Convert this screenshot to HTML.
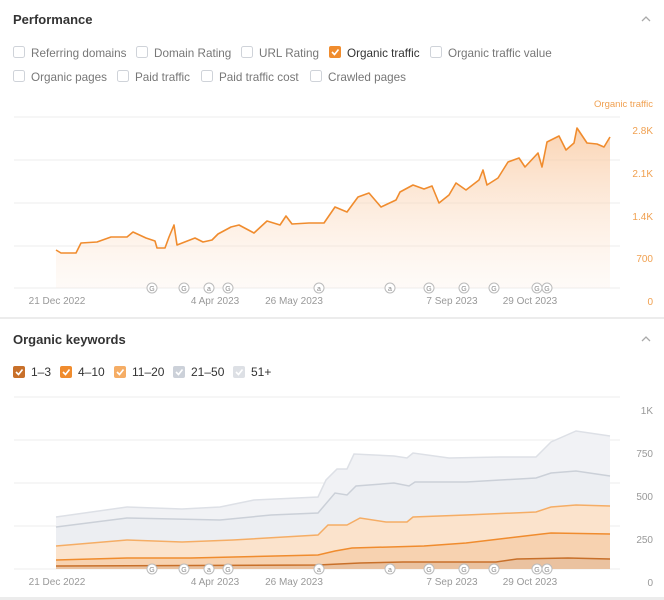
<!DOCTYPE html>
<html><head><meta charset="utf-8"><style>
html,body{margin:0;padding:0;background:#fff}
svg{display:block}
text{font-family:"Liberation Sans",Arial,sans-serif}
.cb{fill:#fff;stroke:#cfd3d9;stroke-width:1}
.lb{font-size:11.7px;fill:#777}
.ax{font-size:10px;fill:#999}
.ay{font-size:10px;fill:#f0a050}
.g{stroke:#ececec;stroke-width:1}
</style></head><body>
<svg width="664" height="600" viewBox="0 0 664 600" xmlns="http://www.w3.org/2000/svg">
<defs>
<linearGradient id="of" x1="0" y1="0" x2="0" y2="1">
<stop offset="0" stop-color="#f9c9a0" stop-opacity="0.8"/><stop offset="1" stop-color="#fde9da" stop-opacity="0.2"/>
</linearGradient>
</defs>
<text x="13" y="24" font-size="13" font-weight="bold" fill="#333">Performance</text>
<path d="M642 21 l4 -4 l4 4" fill="none" stroke="#aaa" stroke-width="1.3"/>
<rect class="cb" x="13.5" y="46.5" width="11" height="11" rx="2"/><text class="lb" x="31" y="57">Referring domains</text>
<rect class="cb" x="136.5" y="46.5" width="11" height="11" rx="2"/><text class="lb" x="154" y="57">Domain Rating</text>
<rect class="cb" x="241.5" y="46.5" width="11" height="11" rx="2"/><text class="lb" x="259" y="57">URL Rating</text>
<rect x="329" y="46" width="12" height="12" rx="2" fill="#f08c2e"/><path d="M332 52 l2.5 2.5 l4 -5" fill="none" stroke="#fff" stroke-width="1.6"/><text x="347" y="57" font-size="11.7" fill="#333">Organic traffic</text>
<rect class="cb" x="430.5" y="46.5" width="11" height="11" rx="2"/><text class="lb" x="448" y="57">Organic traffic value</text>
<rect class="cb" x="13.5" y="70.5" width="11" height="11" rx="2"/><text class="lb" x="31" y="81">Organic pages</text>
<rect class="cb" x="117.5" y="70.5" width="11" height="11" rx="2"/><text class="lb" x="135" y="81">Paid traffic</text>
<rect class="cb" x="201.5" y="70.5" width="11" height="11" rx="2"/><text class="lb" x="219" y="81">Paid traffic cost</text>
<rect class="cb" x="310.5" y="70.5" width="11" height="11" rx="2"/><text class="lb" x="328" y="81">Crawled pages</text>
<text x="653" y="107" font-size="9.5" fill="#f0a050" text-anchor="end">Organic traffic</text>
<line class="g" x1="14" y1="117" x2="620" y2="117"/>
<line class="g" x1="14" y1="160" x2="620" y2="160"/>
<line class="g" x1="14" y1="203" x2="620" y2="203"/>
<line class="g" x1="14" y1="246" x2="620" y2="246"/>
<line class="g" x1="14" y1="288" x2="620" y2="288"/>
<text class="ay" x="653" y="134" text-anchor="end">2.8K</text>
<text class="ay" x="653" y="177" text-anchor="end">2.1K</text>
<text class="ay" x="653" y="220" text-anchor="end">1.4K</text>
<text class="ay" x="653" y="262" text-anchor="end">700</text>
<text class="ay" x="653" y="305" text-anchor="end">0</text>
<path d="M56,250 L61,253 76,253 81,243 97,242 111,237 127,237 133,232 146,238 155,241 157,248 165,248 169,237 174,225 177,245 195,238 203,242 212,240 218,234 231,227 239,225 254,233 267,221 280,225 286,216 292,224 309,223 324,223 335,207 347,212 358,197 369,193 381,207 396,200 400,192 413,185 424,189 432,186 439,203 449,195 456,183 466,190 479,180 483,170 487,185 498,178 508,162 519,158 525,167 538,153 542,167 547,142 559,136 566,150 574,143 577,128 587,143 597,144 604,147 610,137 L610,288 L56,288 Z" fill="url(#of)"/>
<path d="M56,250 L61,253 76,253 81,243 97,242 111,237 127,237 133,232 146,238 155,241 157,248 165,248 169,237 174,225 177,245 195,238 203,242 212,240 218,234 231,227 239,225 254,233 267,221 280,225 286,216 292,224 309,223 324,223 335,207 347,212 358,197 369,193 381,207 396,200 400,192 413,185 424,189 432,186 439,203 449,195 456,183 466,190 479,180 483,170 487,185 498,178 508,162 519,158 525,167 538,153 542,167 547,142 559,136 566,150 574,143 577,128 587,143 597,144 604,147 610,137" fill="none" stroke="#f08c2e" stroke-width="1.6" stroke-linejoin="round"/>
<g fill="#fff" stroke="#bbb">
<circle cx="152" cy="288" r="5"/><circle cx="184" cy="288" r="5"/><circle cx="209" cy="288" r="5"/><circle cx="228" cy="288" r="5"/><circle cx="319" cy="288" r="5"/><circle cx="390" cy="288" r="5"/><circle cx="429" cy="288" r="5"/><circle cx="464" cy="288" r="5"/><circle cx="494" cy="288" r="5"/><circle cx="537" cy="288" r="5"/><circle cx="547" cy="288" r="5"/>
</g>
<g font-size="7" fill="#888" text-anchor="middle">
<text x="152" y="291">G</text><text x="184" y="291">G</text><text x="209" y="291">a</text><text x="228" y="291">G</text><text x="319" y="291">a</text><text x="390" y="291">a</text><text x="429" y="291">G</text><text x="464" y="291">G</text><text x="494" y="291">G</text><text x="537" y="291">G</text><text x="547" y="291">G</text>
</g>
<g text-anchor="middle">
<text x="57" y="304" class="ax">21 Dec 2022</text><text x="215" y="304" class="ax">4 Apr 2023</text><text x="294" y="304" class="ax">26 May 2023</text><text x="452" y="304" class="ax">7 Sep 2023</text><text x="530" y="304" class="ax">29 Oct 2023</text>
</g>
<rect x="0" y="317" width="664" height="2" fill="#ececec"/>
<text x="13" y="344" font-size="13" font-weight="bold" fill="#333">Organic keywords</text>
<path d="M642 341 l4 -4 l4 4" fill="none" stroke="#aaa" stroke-width="1.3"/>
<rect x="13" y="366" width="12" height="12" rx="2" fill="#c8702a"/><path d="M16 372 l2.5 2.5 l4 -5" fill="none" stroke="#fff" stroke-width="1.6"/><text x="31" y="376" font-size="12" fill="#333">1–3</text>
<rect x="60" y="366" width="12" height="12" rx="2" fill="#f08c2e"/><path d="M63 372 l2.5 2.5 l4 -5" fill="none" stroke="#fff" stroke-width="1.6"/><text x="78" y="376" font-size="12" fill="#333">4–10</text>
<rect x="114" y="366" width="12" height="12" rx="2" fill="#f5ad65"/><path d="M117 372 l2.5 2.5 l4 -5" fill="none" stroke="#fff" stroke-width="1.6"/><text x="132" y="376" font-size="12" fill="#333">11–20</text>
<rect x="173" y="366" width="12" height="12" rx="2" fill="#ccd1d9"/><path d="M176 372 l2.5 2.5 l4 -5" fill="none" stroke="#fff" stroke-width="1.6"/><text x="191" y="376" font-size="12" fill="#333">21–50</text>
<rect x="233" y="366" width="12" height="12" rx="2" fill="#dde0e5"/><path d="M236 372 l2.5 2.5 l4 -5" fill="none" stroke="#fff" stroke-width="1.6"/><text x="251" y="376" font-size="12" fill="#333">51+</text>
<line class="g" x1="14" y1="397" x2="620" y2="397"/>
<line class="g" x1="14" y1="440" x2="620" y2="440"/>
<line class="g" x1="14" y1="483" x2="620" y2="483"/>
<line class="g" x1="14" y1="526" x2="620" y2="526"/>
<line class="g" x1="14" y1="569" x2="620" y2="569"/>
<g text-anchor="end">
<text class="ax" x="653" y="414">1K</text><text class="ax" x="653" y="457">750</text><text class="ax" x="653" y="500">500</text><text class="ax" x="653" y="543">250</text><text class="ax" x="653" y="586">0</text>
</g>
<path d="M56,517 L127,507 182,509 220,507 254,500 318,497 326,480 337,469 347,469 354,454 394,456 407,458 413,453 449,458 500,457 536,457 551,442 576,431 610,436 L610,569 L56,569 Z" fill="#f1f2f5"/>
<path d="M56,517 L127,507 182,509 220,507 254,500 318,497 326,480 337,469 347,469 354,454 394,456 407,458 413,453 449,458 500,457 536,457 551,442 576,431 610,436" fill="none" stroke="#dde0e6" stroke-width="1.5"/>
<path d="M56,527 L127,518 220,520 271,515 318,513 335,493 347,495 356,486 394,483 409,486 415,482 466,482 536,478 551,473 576,471 610,476 L610,569 L56,569 Z" fill="#eceef2"/>
<path d="M56,527 L127,518 220,520 271,515 318,513 335,493 347,495 356,486 394,483 409,486 415,482 466,482 536,478 551,473 576,471 610,476" fill="none" stroke="#cbd0d8" stroke-width="1.5"/>
<path d="M56,546 L127,540 182,542 233,540 318,535 328,525 347,525 360,518 386,522 407,522 413,517 466,515 536,512 551,507 576,505 610,506 L610,569 L56,569 Z" fill="#fbe3cc"/>
<path d="M56,546 L127,540 182,542 233,540 318,535 328,525 347,525 360,518 386,522 407,522 413,517 466,515 536,512 551,507 576,505 610,506" fill="none" stroke="#f5ad65" stroke-width="1.5"/>
<path d="M56,560 L127,558 191,558 318,555 335,551 352,548 424,546 466,543 508,538 542,534 551,533 610,534 L610,569 L56,569 Z" fill="#f7d2b0"/>
<path d="M56,560 L127,558 191,558 318,555 335,551 352,548 424,546 466,543 508,538 542,534 551,533 610,534" fill="none" stroke="#f08c2e" stroke-width="1.5"/>
<path d="M56,566 L318,565 360,563 403,562 496,562 517,559 568,558 610,559 L610,569 L56,569 Z" fill="#eac2a0"/>
<path d="M56,566 L318,565 360,563 403,562 496,562 517,559 568,558 610,559" fill="none" stroke="#c8702a" stroke-width="1.5"/>
<g fill="#fff" stroke="#bbb">
<circle cx="152" cy="569" r="5"/><circle cx="184" cy="569" r="5"/><circle cx="209" cy="569" r="5"/><circle cx="228" cy="569" r="5"/><circle cx="319" cy="569" r="5"/><circle cx="390" cy="569" r="5"/><circle cx="429" cy="569" r="5"/><circle cx="464" cy="569" r="5"/><circle cx="494" cy="569" r="5"/><circle cx="537" cy="569" r="5"/><circle cx="547" cy="569" r="5"/>
</g>
<g font-size="7" fill="#888" text-anchor="middle">
<text x="152" y="572">G</text><text x="184" y="572">G</text><text x="209" y="572">a</text><text x="228" y="572">G</text><text x="319" y="572">a</text><text x="390" y="572">a</text><text x="429" y="572">G</text><text x="464" y="572">G</text><text x="494" y="572">G</text><text x="537" y="572">G</text><text x="547" y="572">G</text>
</g>
<g text-anchor="middle">
<text x="57" y="585" class="ax">21 Dec 2022</text><text x="215" y="585" class="ax">4 Apr 2023</text><text x="294" y="585" class="ax">26 May 2023</text><text x="452" y="585" class="ax">7 Sep 2023</text><text x="530" y="585" class="ax">29 Oct 2023</text>
</g>
<rect x="0" y="597" width="664" height="3" fill="#ececec"/>
</svg>
</body></html>
